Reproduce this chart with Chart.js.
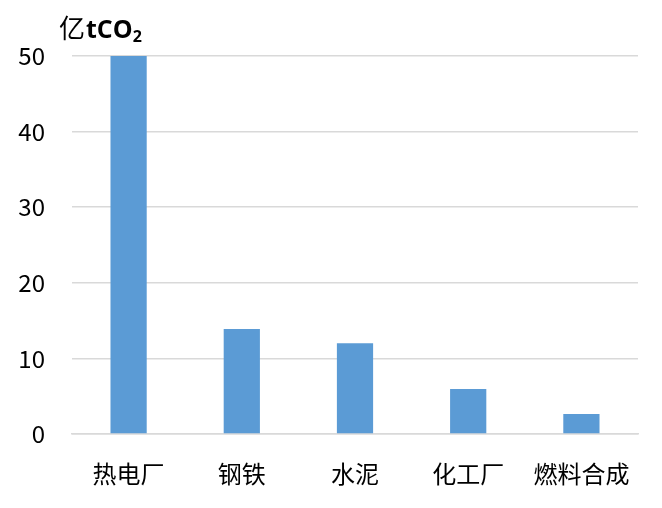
<!DOCTYPE html>
<html>
<head>
<meta charset="utf-8">
<script src="https://cdn.jsdelivr.net/npm/chart.js@4/dist/chart.umd.min.js"></script>
<style>
  html, body { margin: 0; padding: 0; background: #fff; }
  #wrap { position: relative; width: 662px; height: 508px; }
  #unit {
    position: absolute; left: 59px; top: 14px;
    font-family: "Noto Sans CJK SC", "Noto Sans", sans-serif;
    font-size: 26px; color: #000; line-height: 1; white-space: nowrap;
  }
  #unit b { font-family: "Open Sans", "Noto Sans", sans-serif; font-weight: 700; font-size: 25px; margin-left: 1px; }
  #unit sub { font-size: 16px; position: relative; bottom: -4px; vertical-align: baseline; }
</style>
</head>
<body>
<div id="wrap">
  <canvas id="chart" width="662" height="508"></canvas>
  <div id="unit">亿<b>tCO<sub>2</sub></b></div>
</div>
<script>
const categories = ['热电厂', '钢铁', '水泥', '化工厂', '燃料合成'];
const emissions = [50, 13.9, 12, 5.95, 2.65];
const yTicks = [0, 10, 20, 30, 40, 50];

const FONT = '"Noto Sans CJK SC", "Noto Sans", sans-serif';

const ctx = document.getElementById('chart').getContext('2d');
new Chart(ctx, {
    type: 'bar',
    data: {
        labels: categories,
        datasets: [{
            data: emissions,
            backgroundColor: '#5b9bd5',
            borderWidth: 0,
            barPercentage: 0.32,
            categoryPercentage: 1
        }]
    },
    options: {
        responsive: false,
        animation: false,
        layout: { padding: { top: 56, right: 24, left: 0, bottom: 0 } },
        plugins: { legend: { display: false }, tooltip: { enabled: false } },
        scales: {
            x: {
                grid: { display: false, drawTicks: false },
                border: { display: true, color: '#d9d9d9', width: 1.5 },
                ticks: { color: '#000', font: { family: FONT, size: 24 }, padding: 25, maxRotation: 0 },
                afterFit: (scale) => { scale.height = 74; }
            },
            y: {
                min: 0,
                max: 50,
                afterBuildTicks: (scale) => { scale.ticks = yTicks.map(v => ({ value: v })); },
                grid: { color: '#d9d9d9', lineWidth: 1.5, drawTicks: false },
                border: { display: false },
                ticks: { color: '#000', font: { family: FONT, size: 24 }, padding: 27 },
                afterFit: (scale) => { scale.width = 72; }
            }
        }
    }
});
</script>
</body>
</html>
